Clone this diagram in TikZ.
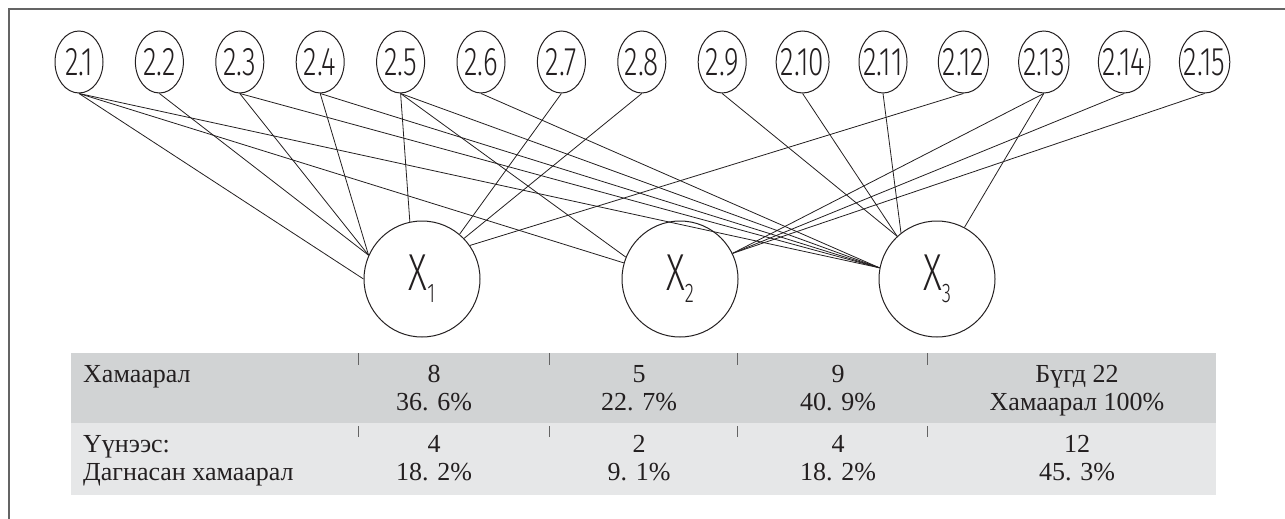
\documentclass[tikz,border=0pt]{standalone}
\usepackage{fontspec}
\setmainfont{Liberation Serif}
\IfFontExistsTF{Fira Sans Light}
  {\newfontfamily\factorfont{Fira Sans Light}[FakeStretch=0.7]}
  {\newfontfamily\factorfont{Fira Sans}[FakeStretch=0.7]}
\usepackage{tikz}
\usetikzlibrary{positioning,shapes.geometric}
\usepackage{xcolor}
\definecolor{framegray}{HTML}{646464}
\definecolor{rowdark}{HTML}{D1D3D4}
\definecolor{rowlight}{HTML}{E6E7E8}
\definecolor{ink}{HTML}{231F20}

\begin{document}
\begin{tikzpicture}[
    x = 1pt, y = -1pt,
    on grid,
    node distance = 80.4pt,
    factor/.style={ellipse, draw=ink, text=ink, line width=1pt,
        inner xsep=-3pt, inner ysep=0pt,
        minimum width=48pt, minimum height=62pt,
        font=\factorfont\fontsize{40}{40}\selectfont},
    group/.style={circle, draw=ink, text=ink, line width=1pt, inner sep=0pt,
        minimum size=116pt, font=\factorfont\fontsize{52}{52}\selectfont},
    link/.style={draw=ink, line width=0.8pt},
    cell/.style={anchor=base, align=center, inner sep=0pt, text=ink,
        font=\fontsize{26}{28}\selectfont},
    colmark/.style={draw=framegray, line width=0.9pt}
]
\useasboundingbox (0,0) rectangle (1285,519);

% Frame
\draw[framegray, line width=1.7pt] (9,519) -- (9,9) -- (1285,9);

% Factors
\node[factor] (s1) at (79,62) {2.1};
\node[factor] (s2) [right=of s1] {2.2};
\node[factor] (s3) [right=of s2] {2.3};
\node[factor] (s4) [right=of s3] {2.4};
\node[factor] (s5) [right=of s4] {2.5};
\node[factor] (s6) [right=of s5] {2.6};
\node[factor] (s7) [right=of s6] {2.7};
\node[factor] (s8) [right=of s7] {2.8};
\node[factor] (s9) [right=of s8] {2.9};
\node[factor] (s10) [right=of s9] {2.10};
\node[factor] (s11) [right=of s10] {2.11};
\node[factor] (s12) [right=of s11] {2.12};
\node[factor] (s13) [right=of s12] {2.13};
\node[factor] (s14) [right=of s13] {2.14};
\node[factor] (s15) [right=of s14] {2.15};

% Groups
\node[group] (x1) at (422,279) {X\raisebox{-12pt}{\fontsize{27}{27}\selectfont 1}};
\node[group] (x2) [right=258pt of x1] {X\raisebox{-12pt}{\fontsize{27}{27}\selectfont 2}};
\node[group] (x3) [right=257pt of x2] {X\raisebox{-12pt}{\fontsize{27}{27}\selectfont 3}};

% Links to X1
\path[link]
    (s1.south) edge (x1.west)
    (s2.south) edge (x1.156)
    (s3.south) edge (x1.156)
    (s4.south) edge (x1.156)
    (s5.south) edge (x1.102)
    (s7.south) edge (x1.50)
    (s8.south) edge (x1.44)
    (s12.south) edge (x1.35);

% Links to X2
\path[link]
    (s1.south) edge (x2.164)
    (s5.south) edge (x2.158)
    (s13.south) edge (x2.26)
    (s14.south) edge (x2.26)
    (s15.south) edge (x2.26);

% Links to X3
\path[link]
    (s1.south) edge (x3.169)
    (s3.south) edge (x3.169)
    (s4.south) edge (x3.169)
    (s5.south) edge (x3.169)
    (s6.south) edge (x3.169)
    (s9.south) edge (x3.133)
    (s10.south) edge (x3.133)
    (s11.south) edge (x3.128)
    (s13.south) edge (x3.62);

% Table
\fill[rowdark] (71,353) rectangle (1216,423);
\fill[rowlight] (71,423) rectangle (1216,495);
\draw[colmark] (358,353) -- (358,365) (549,353) -- (549,365)
    (737,353) -- (737,365) (927,353) -- (927,365);
\draw[colmark] (358,426) -- (358,437) (549,426) -- (549,437)
    (737,426) -- (737,437) (927,426) -- (927,437);

\node[cell, anchor=base west] (rel) at (83,382) {Хамаарал};
\node[cell] (rel1) at (434,410) {8\\36. 6\%};
\node[cell] (rel2) at (639,410) {5\\22. 7\%};
\node[cell] (rel3) at (838,410) {9\\40. 9\%};
\node[cell] (relall) at (1077,410) {Бүгд 22\\Хамаарал 100\%};

\node[cell, anchor=base west, align=left] (own) at (83,480) {Үүнээс:\\Дагнасан хамаарал};
\node[cell] (own1) at (434,480) {4\\18. 2\%};
\node[cell] (own2) at (639,480) {2\\9. 1\%};
\node[cell] (own3) at (838,480) {4\\18. 2\%};
\node[cell] (ownall) at (1077,480) {12\\45. 3\%};

\end{tikzpicture}
\end{document}
